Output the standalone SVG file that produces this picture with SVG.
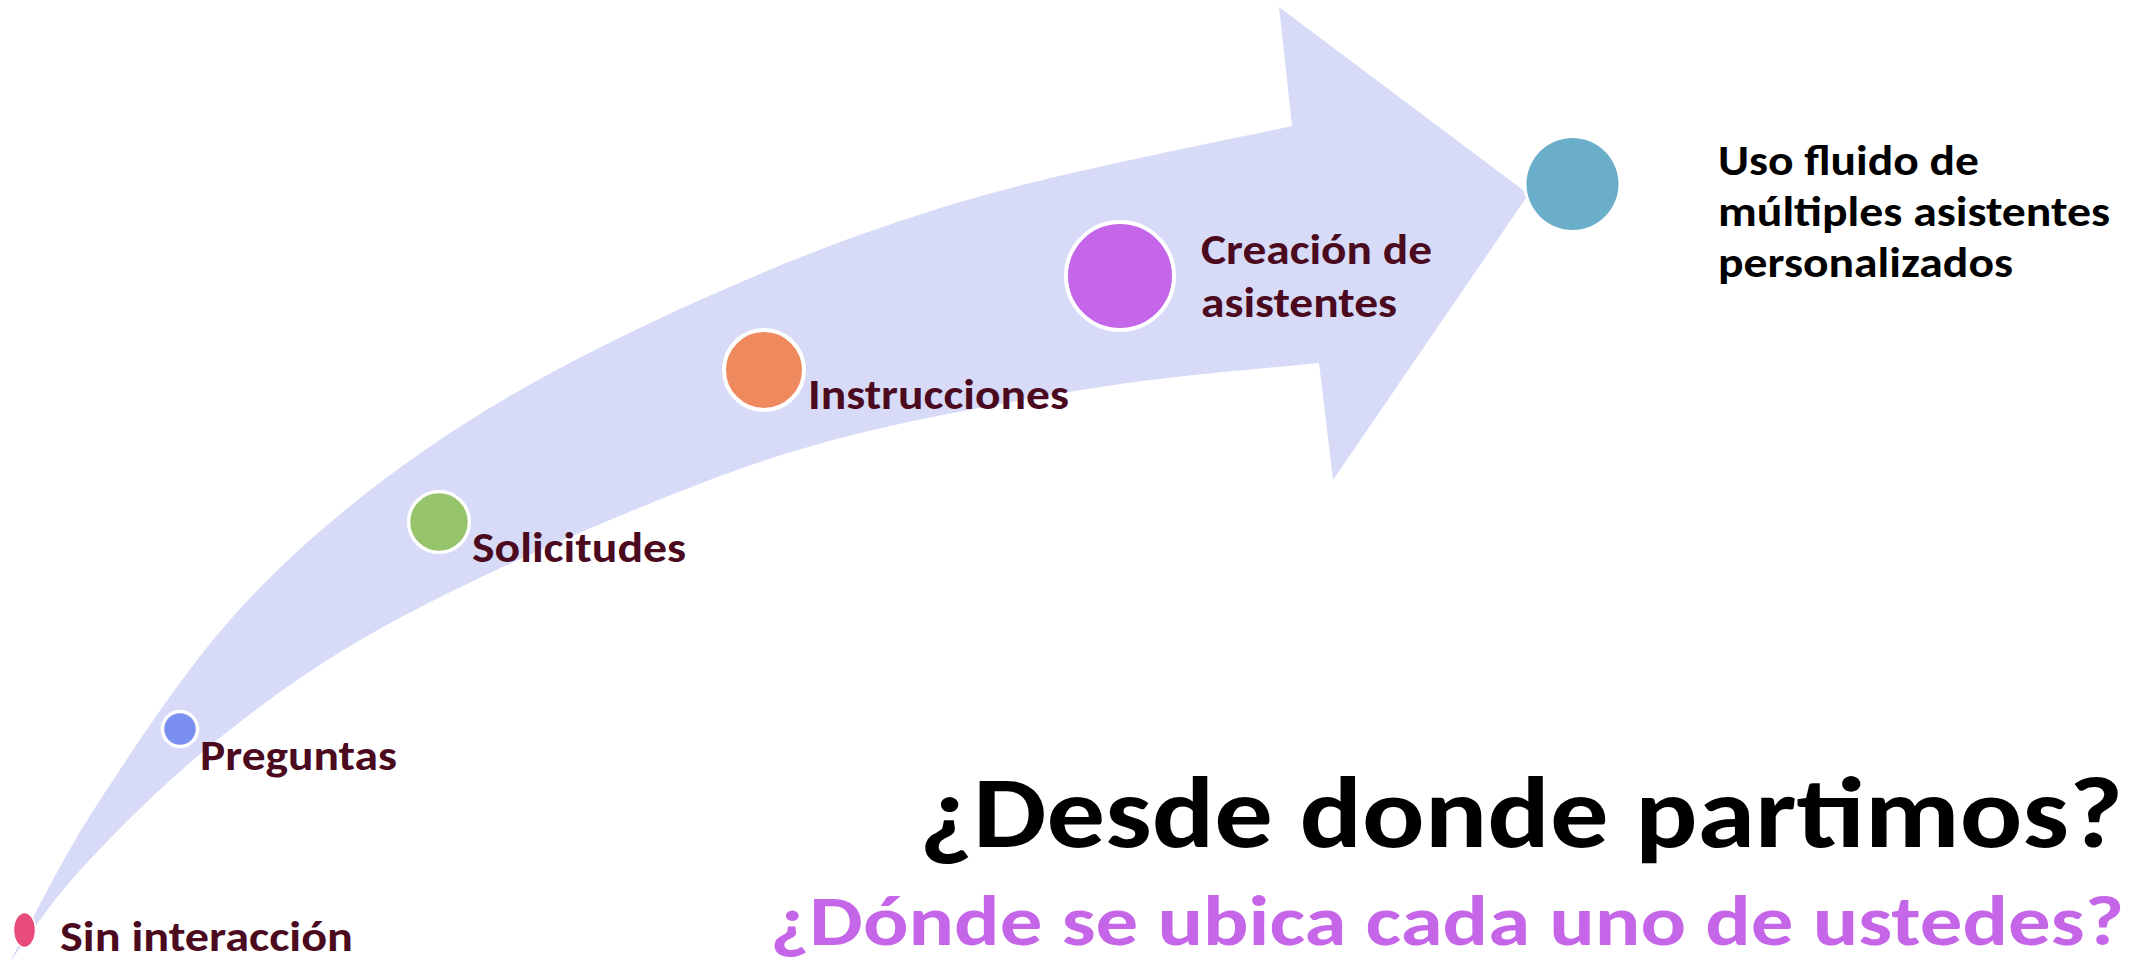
<svg xmlns="http://www.w3.org/2000/svg" width="2131" height="961" viewBox="0 0 2131 961">
<style>
.lbl{font-family:Calibri,Carlito,Lato,"Liberation Sans",sans-serif;font-weight:700;font-size:43px;fill:#4B0A1E}
.uso{font-family:Calibri,Carlito,Lato,"Liberation Sans",sans-serif;font-weight:700;font-size:43px;fill:#000}
.t1{font-family:Calibri,Carlito,Lato,"Liberation Sans",sans-serif;font-weight:700;font-size:102px;fill:#000}
.t2{font-family:Calibri,Carlito,Lato,"Liberation Sans",sans-serif;font-weight:700;font-size:70px;fill:#C565E8}
.ring{stroke:#fff;}
</style>
<rect width="2131" height="961" fill="#fff"/>
<g id="connectors">
<path id="arrow" fill="#D7DBF8" d="M10,962 C25,935 60,860.7 100,800 C140,739.3 191.7,659.2 250,598 C308.3,536.8 375,482.7 450,433 C525,383.3 613.8,338.8 700,300 C786.2,261.2 868.3,229 967,200 C1065.7,171 1237.8,138.3 1292,126 L1279,7 L1523,190 L1526,198 L1333,480 L1319,363 C1282.5,367 1181,374.2 1100,387 C1019,399.8 913.5,418.3 833,440 C752.5,461.7 692,485.8 617,517 C542,548.2 449.7,589.8 383,627 C316.3,664.2 267,700 217,740 C167,780 117.5,830 83,867 C48.5,904 22.2,946.2 10,962 Z"/>
</g>
<g id="node-sin">
<ellipse cx="24.5" cy="930" rx="11" ry="17.5" fill="#E84A7A" class="ring" stroke-width="1.5"/>
<text class="lbl" x="60" y="951" textLength="293" lengthAdjust="spacingAndGlyphs">Sin interacción</text>
</g>
<g id="node-preguntas">
<circle cx="180" cy="729" r="17.5" fill="#7B8FF0" class="ring" stroke-width="3.5"/>
<text class="lbl" x="200" y="770" textLength="197" lengthAdjust="spacingAndGlyphs">Preguntas</text>
</g>
<g id="node-solicitudes">
<circle cx="439" cy="522" r="30.4" fill="#96C46A" class="ring" stroke-width="3.4"/>
<text class="lbl" x="472" y="562" textLength="214" lengthAdjust="spacingAndGlyphs">Solicitudes</text>
</g>
<g id="node-instrucciones">
<circle cx="764" cy="370" r="40" fill="#EF8A5E" class="ring" stroke-width="4"/>
<text class="lbl" x="808" y="409" textLength="261" lengthAdjust="spacingAndGlyphs">Instrucciones</text>
</g>
<g id="node-creacion">
<circle cx="1120" cy="276" r="54" fill="#C565E8" class="ring" stroke-width="4"/>
<text class="lbl" x="1201" y="264" textLength="231" lengthAdjust="spacingAndGlyphs">Creación de</text>
<text class="lbl" x="1201" y="317" textLength="196" lengthAdjust="spacingAndGlyphs">asistentes</text>
</g>
<g id="node-uso">
<circle cx="1572.5" cy="184" r="46" fill="#6AAEC9"/>
<text class="uso" x="1718" y="175" textLength="261" lengthAdjust="spacingAndGlyphs">Uso fluido de</text>
<text class="uso" x="1718" y="226" textLength="392" lengthAdjust="spacingAndGlyphs">múltiples asistentes</text>
<text class="uso" x="1718" y="277" textLength="295" lengthAdjust="spacingAndGlyphs">personalizados</text>
</g>
<g id="titles">
<text class="t1" x="919" y="847" textLength="1204" lengthAdjust="spacingAndGlyphs">¿Desde donde partimos?</text>
<text class="t2" x="770" y="945" textLength="1354" lengthAdjust="spacingAndGlyphs">¿Dónde se ubica cada uno de ustedes?</text>
</g>
</svg>
